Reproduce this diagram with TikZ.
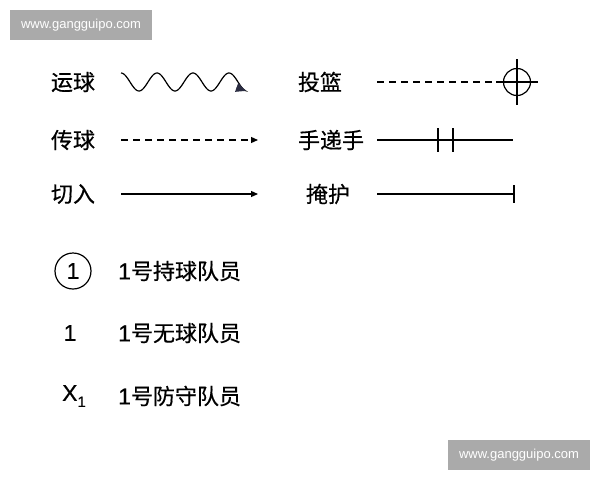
\documentclass[tikz,border=0pt]{standalone}
\usepackage{fontspec}
\setmainfont{Liberation Sans}
\newfontfamily\cjk[FakeBold=0.5]{Noto Sans CJK SC}
\newfontfamily\lat[FakeBold=0.5]{Liberation Sans}
\usetikzlibrary{arrows.meta}
\definecolor{markgray}{HTML}{AAAAAA}
\definecolor{tipnavy}{HTML}{2B2D42}

\begin{document}
\begin{tikzpicture}[
	x=1pt,
	y=-1pt,
	term/.style={
		inner sep=0pt,
		font=\cjk\fontsize{22}{22}\selectfont
	},
	sym/.style={
		inner sep=0pt,
		font=\lat\fontsize{23}{23}\selectfont
	},
	wmark/.style={
		rectangle,
		fill=markgray,
		text=white,
		inner sep=0pt,
		minimum width=142,
		minimum height=30,
		font=\fontsize{13}{13}\selectfont
	},
	move/.style={
		line width=1.2pt
	},
	passline/.style={
		move,
		dash pattern=on 7pt off 5pt
	},
	tip/.style={
		-{Triangle[length=7pt,width=6pt]}
	},
]

\useasboundingbox (0,0) rectangle (600,480);

%% Watermarks %%
\node[wmark] (wmtop) at (81,25) {www.gangguipo.com};
\node[wmark] (wmbot) at (519,455) {www.gangguipo.com};

%% Left column %%
\node[term] (drib) at (73,82) {运球};
\node[term] (pass) at (73,140) {传球};
\node[term] (cut) at (73,194) {切入};

% dribble wave %
\draw[move, -{Triangle[length=10pt,width=9pt,color=tipnavy]}]
	plot[domain=121:246, samples=120, smooth] (\x, {82-9*cos((\x-121)*10)});

% pass %
\coordinate (passS) at (121,140);
\coordinate (passE) at (258,140);
\draw[passline, tip] (passS) -- (passE);

% cut %
\coordinate (cutS) at (121,194);
\coordinate (cutE) at (258,194);
\draw[move, tip] (cutS) -- (cutE);

%% Right column %%
\node[term] (shoot) at (320,82) {投篮};
\node[term] (hand) at (331,140) {手递手};
\node[term] (screen) at (328,194) {掩护};

% shot %
\node[draw, circle, move, minimum size=27, inner sep=0pt] (hoop) at (517,82) {};
\coordinate (shootS) at (377,82);
\draw[passline] (shootS) -- (hoop.west);
\draw[move] (hoop.center) ++(0,-23) -- ++(0,46);
\draw[move] (hoop.center) ++(-21,0) -- ++(42,0);

% hand off %
\coordinate (handS) at (377,140);
\coordinate (handE) at (513,140);
\draw[move] (handS) -- (handE);
\draw[move] (438,128) -- (438,152);
\draw[move] (453,128) -- (453,152);

% screen %
\coordinate (screenS) at (377,194);
\coordinate (screenE) at (514,194);
\draw[move] (screenS) -- (screenE);
\draw[move] (screenE) ++(0,-9) -- ++(0,18);

%% Players %%
\node[sym, draw, circle, move, minimum size=36] (ball1) at (73,271) {1};
\node[sym] (off1) at (70,333) {1};
\node[sym] (def1) at (74,396) {X\raisebox{-6pt}{\fontsize{15}{15}\selectfont 1}};

\node[sym, anchor=west] (ball1txt) at (118,271) {1{\cjk\fontsize{22}{22}\selectfont 号持球队员}};
\node[sym, anchor=west] (off1txt) at (118,333) {1{\cjk\fontsize{22}{22}\selectfont 号无球队员}};
\node[sym, anchor=west] (def1txt) at (118,396) {1{\cjk\fontsize{22}{22}\selectfont 号防守队员}};

\end{tikzpicture}
\end{document}
